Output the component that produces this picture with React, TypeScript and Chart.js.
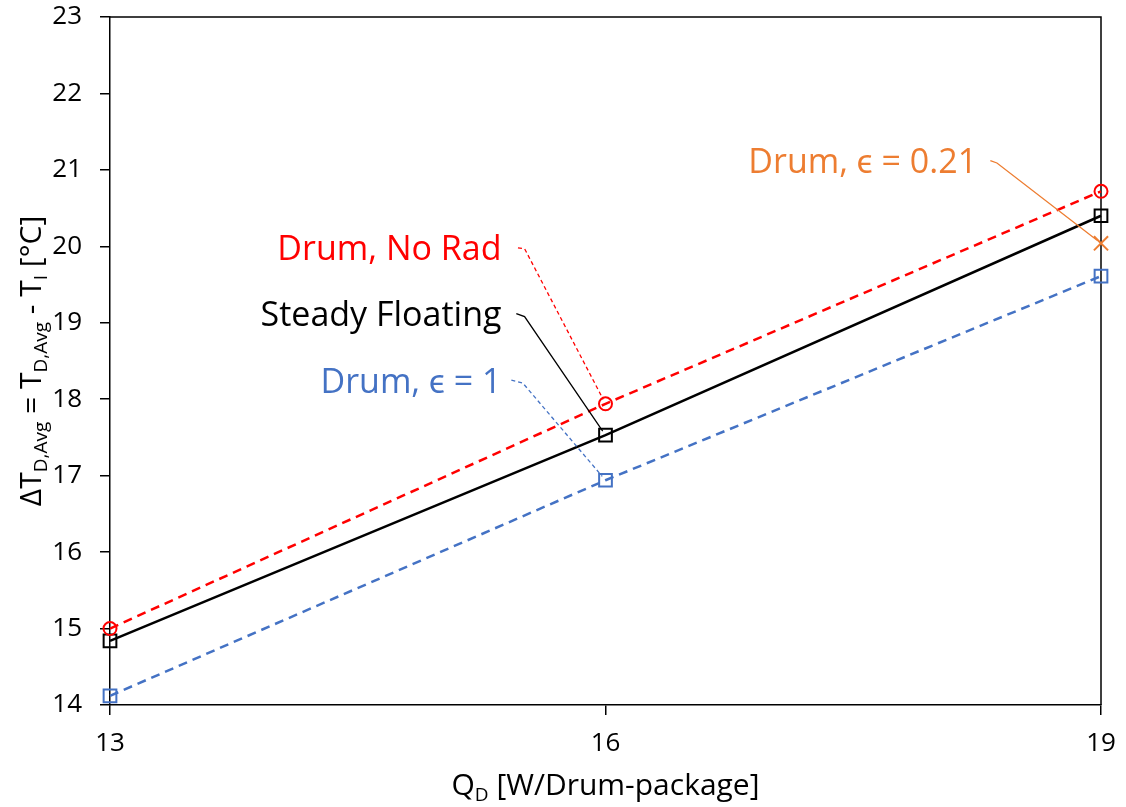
import React, { useEffect, useRef } from "react";
import { Chart, registerables } from "chart.js";

Chart.register(...registerables);

const xValues = [13, 16, 19];
const noRadValues = [15.0, 17.94, 20.72];
const steadyValues = [14.84, 17.53, 20.4];
const eps1Values = [14.12, 16.94, 19.61];
const eps021Values: (number | null)[] = [null, null, 20.04];

const xTickValues = [13, 16, 19];
const yMin = 14;
const yMax = 23;

// Callout labels: text, anchor (data units), elbow start / elbow end (data units), target point (data units)
const calloutTexts = ["Drum, No Rad", "Steady Floating", "Drum, \u03F5 = 1", "Drum, \u03F5 = 0.21"];
const calloutTextPos = [
  [15.37, 19.95],
  [15.37, 19.09],
  [15.37, 18.21],
  [18.25, 21.09],
];
const calloutLineStart = [
  [15.47, 19.98],
  [15.46, 19.12],
  [15.43, 18.25],
  [18.33, 21.12],
];
const calloutElbow = [
  [15.51, 19.97],
  [15.51, 19.08],
  [15.5, 18.21],
  [18.37, 21.09],
];
const calloutTarget = [
  [16, 17.94],
  [16, 17.53],
  [16, 16.94],
  [19, 20.04],
];

const RED = "#FF0000";
const BLACK = "#000000";
const BLUE = "#4472C4";
const ORANGE = "#ED7D31";
const calloutColors = [RED, BLACK, BLUE, ORANGE];
const calloutDashed = [true, false, true, false];

const FONT = "'Open Sans', Lato, sans-serif";

const framePlugin = {
  id: "frame",
  beforeDatasetsDraw(chart: any) {
    const { ctx, chartArea } = chart;
    ctx.save();
    ctx.strokeStyle = "#000";
    ctx.lineWidth = 1.5;
    ctx.beginPath();
    ctx.moveTo(chartArea.left, chartArea.top);
    ctx.lineTo(chartArea.right, chartArea.top);
    ctx.lineTo(chartArea.right, chartArea.bottom);
    ctx.stroke();
    ctx.restore();
  },
};

const calloutPlugin = {
  id: "callouts",
  afterDatasetsDraw(chart: any) {
    const { ctx } = chart;
    const xs = chart.scales.x;
    const ys = chart.scales.y;
    ctx.save();
    for (let i = 0; i < calloutTexts.length; i++) {
      const color = calloutColors[i];
      ctx.font = `34px ${FONT}`;
      ctx.fillStyle = color;
      ctx.textAlign = "right";
      ctx.textBaseline = "middle";
      ctx.fillText(
        calloutTexts[i],
        xs.getPixelForValue(calloutTextPos[i][0]),
        ys.getPixelForValue(calloutTextPos[i][1])
      );
      const sx = xs.getPixelForValue(calloutLineStart[i][0]);
      const sy = ys.getPixelForValue(calloutLineStart[i][1]);
      const ex = xs.getPixelForValue(calloutElbow[i][0]);
      const ey = ys.getPixelForValue(calloutElbow[i][1]);
      let tx = xs.getPixelForValue(calloutTarget[i][0]);
      let ty = ys.getPixelForValue(calloutTarget[i][1]);
      const dx = tx - ex;
      const dy = ty - ey;
      const len = Math.sqrt(dx * dx + dy * dy);
      const shorten = 5;
      tx = tx - (dx / len) * shorten;
      ty = ty - (dy / len) * shorten;
      ctx.strokeStyle = color;
      ctx.lineWidth = 1.3;
      ctx.setLineDash(calloutDashed[i] ? [4, 3] : []);
      ctx.beginPath();
      ctx.moveTo(sx, sy);
      ctx.lineTo(ex, ey);
      ctx.lineTo(tx, ty);
      ctx.stroke();
    }
    ctx.restore();
  },
};

function drawRuns(ctx: CanvasRenderingContext2D, runs: [string, boolean][], x: number, y: number, big: number, small: number) {
  let total = 0;
  const widths: number[] = [];
  for (const [t, sub] of runs) {
    ctx.font = `${sub ? small : big}px ${FONT}`;
    const w = ctx.measureText(t).width;
    widths.push(w);
    total += w;
  }
  let cx = x - total / 2;
  ctx.textAlign = "left";
  ctx.textBaseline = "alphabetic";
  runs.forEach(([t, sub], i) => {
    ctx.font = `${sub ? small : big}px ${FONT}`;
    ctx.fillText(t, cx, sub ? y + big * 0.2 : y);
    cx += widths[i];
  });
}

const titlesPlugin = {
  id: "titles",
  afterDraw(chart: any) {
    const { ctx, chartArea } = chart;
    ctx.save();
    ctx.fillStyle = "#000";
    const xc = (chartArea.left + chartArea.right) / 2;
    drawRuns(
      ctx,
      [
        ["Q", false],
        ["D", true],
        [" [W/Drum-package]", false],
      ],
      xc,
      chartArea.bottom + 90,
      30,
      19
    );
    ctx.translate(41, (chartArea.top + chartArea.bottom) / 2);
    ctx.rotate(-Math.PI / 2);
    drawRuns(
      ctx,
      [
        ["\u0394T", false],
        ["D,Avg", true],
        [" = T", false],
        ["D,Avg", true],
        [" - T", false],
        ["I", true],
        [" [\u00B0C]", false],
      ],
      0,
      0,
      30,
      19
    );
    ctx.restore();
  },
};

export default function App() {
  const canvasRef = useRef<HTMLCanvasElement | null>(null);

  useEffect(() => {
    if (!canvasRef.current) return;
    const mk = (arr: (number | null)[]) => xValues.map((x, i) => ({ x, y: arr[i] as any }));
    const chart = new Chart(canvasRef.current, {
      type: "line",
      data: {
        datasets: [
          {
            label: "Drum, No Rad",
            data: mk(noRadValues),
            borderColor: RED,
            borderWidth: 2.5,
            borderDash: [9, 6],
            pointStyle: "circle",
            pointRadius: 6.5,
            pointBorderWidth: 2,
            pointBorderColor: RED,
            pointBackgroundColor: "rgba(0,0,0,0)",
            backgroundColor: "rgba(0,0,0,0)",
            clip: false,
          },
          {
            label: "Steady Floating",
            data: mk(steadyValues),
            borderColor: BLACK,
            borderWidth: 2.5,
            pointStyle: "rect",
            pointRadius: 9,
            pointBorderWidth: 2,
            pointBorderColor: BLACK,
            pointBackgroundColor: "rgba(0,0,0,0)",
            backgroundColor: "rgba(0,0,0,0)",
            clip: false,
          },
          {
            label: "Drum, \u03F5 = 1",
            data: mk(eps1Values),
            borderColor: BLUE,
            borderWidth: 2.5,
            borderDash: [9, 6],
            pointStyle: "rect",
            pointRadius: 9,
            pointBorderWidth: 2,
            pointBorderColor: BLUE,
            pointBackgroundColor: "rgba(0,0,0,0)",
            backgroundColor: "rgba(0,0,0,0)",
            clip: false,
          },
          {
            label: "Drum, \u03F5 = 0.21",
            data: mk(eps021Values),
            borderColor: ORANGE,
            borderWidth: 2,
            showLine: false,
            pointStyle: "crossRot",
            pointRadius: 10,
            pointBorderWidth: 2,
            pointBorderColor: ORANGE,
            backgroundColor: "rgba(0,0,0,0)",
            clip: false,
          },
        ],
      },
      options: {
        animation: false,
        responsive: true,
        maintainAspectRatio: false,
        layout: { padding: { top: 17, right: 25, left: 0, bottom: 0 } },
        plugins: {
          legend: { display: false },
          tooltip: { enabled: false },
        },
        scales: {
          x: {
            type: "linear",
            min: 13,
            max: 19,
            afterBuildTicks: (scale: any) => {
              scale.ticks = xTickValues.map((v) => ({ value: v }));
            },
            afterFit: (scale: any) => {
              scale.height = 102;
              scale.paddingLeft = 0;
              scale.paddingRight = 0;
            },
            grid: {
              drawOnChartArea: false,
              drawTicks: true,
              tickLength: 10,
              color: "#000",
              lineWidth: 1.5,
            },
            border: { display: true, color: "#000", width: 1.5 },
            ticks: {
              color: "#000",
              font: { family: FONT, size: 26 },
              padding: 13,
              maxRotation: 0,
            },
          },
          y: {
            type: "linear",
            min: yMin,
            max: yMax,
            ticks: {
              stepSize: 1,
              color: "#000",
              font: { family: FONT, size: 26 },
              padding: 18,
            },
            afterFit: (scale: any) => {
              scale.width = 110;
              scale.paddingTop = 0;
              scale.paddingBottom = 0;
            },
            grid: {
              drawOnChartArea: false,
              drawTicks: true,
              tickLength: 10,
              color: "#000",
              lineWidth: 1.5,
            },
            border: { display: true, color: "#000", width: 1.5 },
          },
        },
      },
      plugins: [framePlugin, calloutPlugin, titlesPlugin],
    });
    return () => chart.destroy();
  }, []);

  return (
    <div style={{ position: "fixed", left: 0, top: 0, width: "1126px", height: "807px", background: "#fff" }}>
      <canvas ref={canvasRef} />
    </div>
  );
}
